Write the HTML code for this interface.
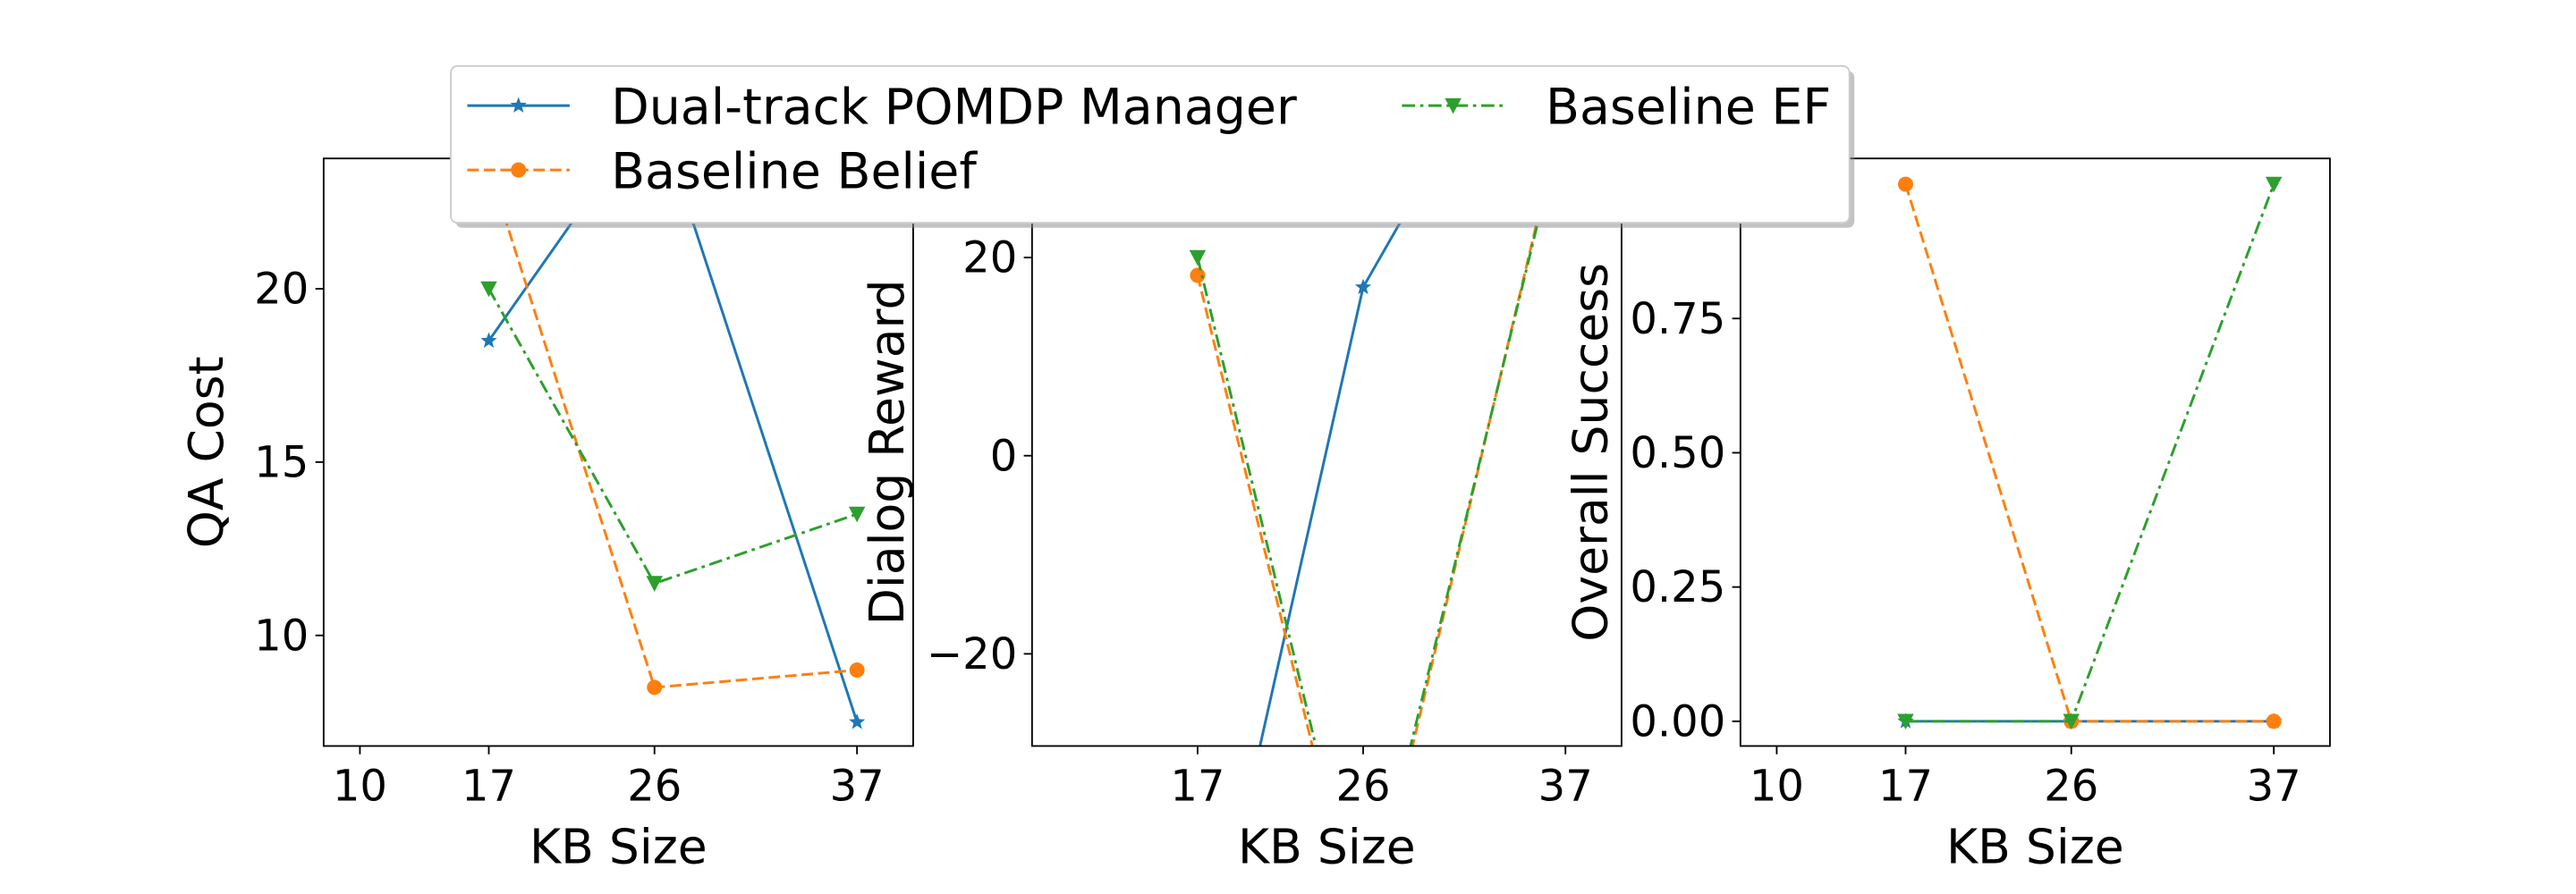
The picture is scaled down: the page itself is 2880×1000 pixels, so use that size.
<!DOCTYPE html>
<html><head><meta charset="utf-8"><style>
html,body{margin:0;padding:0;background:#fff;width:2880px;height:1000px;overflow:hidden;}
svg{display:block;font-family:"DejaVu Sans","Liberation Sans",sans-serif;}
</style></head><body>
<svg id="fig" xmlns="http://www.w3.org/2000/svg" width="2880" height="1000" viewBox="0 0 1560 541.67">
<rect width="1560" height="541.67" fill="#fff"/>
</svg>
<script>
const xValues = [17, 26, 37];
const qaBlue = [18.5, 25.3, 7.5];
const qaOrange = [23.5, 8.5, 9.0];
const qaGreen = [20, 11.5, 13.5];
const drBlue = [-57.3, 17, 52.7];
const drOrange = [18.2, -50.3, 35.7];
const drGreen = [20, -49, 35];
const osBlue = [0, 0, 0];
const osOrange = [1, 0, 0];
const osGreen = [0, 0, 1];
const qaTicks = [10, 15, 20];
const drTicks = [-20, 0, 20];
const osTicks = [0, 0.25, 0.5, 0.75];
const osTickLabels = ["0.00", "0.25", "0.50", "0.75"];
const xTicksFull = [10, 17, 26, 37];
const xTicksShort = [17, 26, 37];

const NS = "http://www.w3.org/2000/svg";
const svg = document.getElementById('fig');
function mk(tag, attrs, parent) {
  const e = document.createElementNS(NS, tag);
  for (const k in attrs) e.setAttribute(k, attrs[k]);
  (parent || svg).appendChild(e);
  return e;
}
const COL = {blue: "#1f77b4", orange: "#ff7f0e", green: "#2ca02c"};
const DASH = {blue: "", orange: "7,3", green: "8,3,2,3"};

function marker(g, kind, x, y, color) {
  let m;
  if (kind === 'star') {
    const pts = [];
    for (let i = 0; i < 10; i++) {
      const r = i % 2 ? 2.2 : 5.2, a = -Math.PI / 2 + i * Math.PI / 5;
      pts.push((x + r * Math.cos(a)).toFixed(2) + ',' + (y + r * Math.sin(a)).toFixed(2));
    }
    m = mk('polygon', {points: pts.join(' '), fill: color}, g);
  } else if (kind === 'circle') {
    m = mk('circle', {cx: x, cy: y, r: 4.6, fill: color}, g);
  } else {
    m = mk('polygon', {points: `${x-5},${y-4.5} ${x+5},${y-4.5} ${x},${y+5}`, fill: color}, g);
  }
  return m;
}

function panel(id, L, xmin, xmax, ymin, ymax, yticks, ylabels, xticks, ylabel, labelX, series) {
  const T = 96, B = 452, W = 357;
  const sx = v => L + (v - xmin) / (xmax - xmin) * W;
  const sy = v => B - (v - ymin) / (ymax - ymin) * (B - T);
  const g = mk('g', {});
  
  
  const cp = mk('clipPath', {id: 'cp-' + id}, g);
  mk('rect', {x: L, y: T, width: W, height: B - T}, cp);
  const data = mk('g', {'clip-path': `url(#cp-${id})`}, g);
  series.forEach(s => {
    const pts = xValues.map((x, i) => sx(x).toFixed(2) + ',' + sy(s.vals[i]).toFixed(2)).join(' ');
    const pl = mk('polyline', {points: pts, fill: 'none', stroke: COL[s.c], 'stroke-width': 1.6, 'stroke-dasharray': DASH[s.c]}, data);
    
    
    xValues.forEach((x, i) => {
      const m = marker(data, s.m, sx(x), sy(s.vals[i]), COL[s.c]);
      
      
    });
  });
  const frame = mk('rect', {x: L, y: T, width: W, height: B - T, fill: 'none', stroke: '#000', 'stroke-width': 1}, g);
  
  
  xticks.forEach(v => {
    mk('line', {x1: sx(v), x2: sx(v), y1: B, y2: B + 5, stroke: '#000', 'stroke-width': 1}, g);
    const t = mk('text', {x: sx(v), y: B + 33, 'font-size': 26, 'text-anchor': 'middle'}, g);
    t.textContent = v;
    
    
  });
  yticks.forEach((v, i) => {
    mk('line', {x1: L - 5, x2: L, y1: sy(v), y2: sy(v), stroke: '#000', 'stroke-width': 1}, g);
    const t = mk('text', {x: L - 9, y: sy(v) + 9, 'font-size': 26, 'text-anchor': 'end'}, g);
    t.textContent = ylabels[i];
    
    
  });
  const xl = mk('text', {x: L + W / 2, y: 523, 'font-size': 29, 'text-anchor': 'middle'}, g);
  xl.textContent = 'KB Size';
  
  
  const lx = labelX + 10;
  const yl = mk('text', {x: lx, y: 274, 'font-size': 29, 'text-anchor': 'middle', transform: `rotate(-90 ${lx} 274)`}, g);
  yl.textContent = ylabel;
  
  
}

panel('qa', 196, 8.03, 40.05, 6.81, 23.76, qaTicks, qaTicks.map(String), xTicksFull, 'QA Cost', 125,
  [{name: 'dual-track', c: 'blue', m: 'star', vals: qaBlue},
   {name: 'baseline-belief', c: 'orange', m: 'circle', vals: qaOrange},
   {name: 'baseline-ef', c: 'green', m: 'tri', vals: qaGreen}]);
panel('dr', 625, 8.0, 40.05, -29.3, 30, drTicks, drTicks.map(v => v < 0 ? '\u2212' + Math.abs(v) : String(v)), xTicksShort, 'Dialog Reward', 537,
  [{name: 'dual-track', c: 'blue', m: 'star', vals: drBlue},
   {name: 'baseline-belief', c: 'orange', m: 'circle', vals: drOrange},
   {name: 'baseline-ef', c: 'green', m: 'tri', vals: drGreen}]);
panel('os', 1054, 8.03, 40.05, -0.046, 1.048, osTicks, osTickLabels, xTicksFull, 'Overall Success', 963,
  [{name: 'dual-track', c: 'blue', m: 'star', vals: osBlue},
   {name: 'baseline-belief', c: 'orange', m: 'circle', vals: osOrange},
   {name: 'baseline-ef', c: 'green', m: 'tri', vals: osGreen}]);

// legend
const lg = mk('g', {});


mk('rect', {x: 276, y: 43, width: 847, height: 95, rx: 4, fill: '#888', opacity: 0.5}, lg);
mk('rect', {x: 273, y: 40, width: 847, height: 95, rx: 4, fill: '#fff', stroke: '#ccc', 'stroke-width': 1}, lg);
const entries = [
  {t: 'Dual-track POMDP Manager', c: 'blue', m: 'star', x: 283, y: 64},
  {t: 'Baseline Belief', c: 'orange', m: 'circle', x: 283, y: 103},
  {t: 'Baseline EF', c: 'green', m: 'tri', x: 849, y: 64}
];
entries.forEach(e => {
  const eg = mk('g', {}, lg);
  
  
  mk('line', {x1: e.x, x2: e.x + 62, y1: e.y, y2: e.y, stroke: COL[e.c], 'stroke-width': 1.6, 'stroke-dasharray': DASH[e.c]}, eg);
  marker(eg, e.m, e.x + 31, e.y, COL[e.c]);
  const t = mk('text', {x: e.x + 87, y: e.y + 11, 'font-size': 30}, eg);
  t.textContent = e.t;
});
</script>
</body></html>
